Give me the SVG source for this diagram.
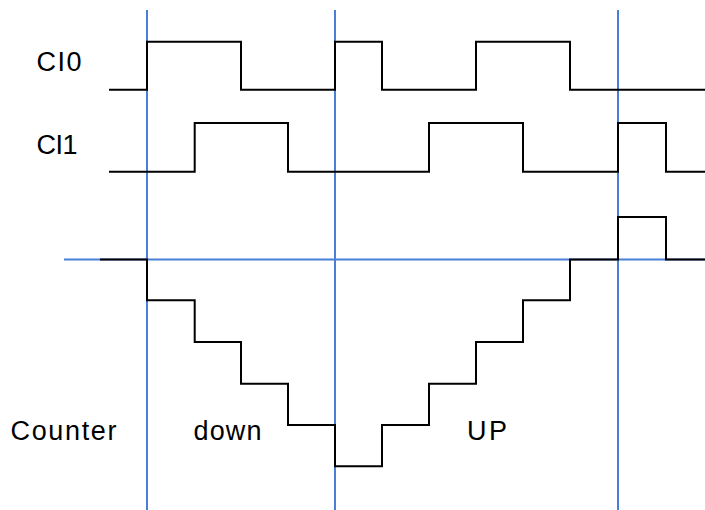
<svg xmlns="http://www.w3.org/2000/svg" width="705" height="510" viewBox="0 0 705 510">
<style>
.grid{stroke:#4a7fd8;stroke-width:2;fill:none}
.sig{stroke:#000;stroke-width:2;fill:none;stroke-linejoin:miter}
.lbl{font-family:"Liberation Sans",Arial,sans-serif;font-size:27px;fill:#000}
</style>
<rect width="705" height="510" fill="#fff"/>
<g id="connectors">
<g id="grid">
<line class="grid" x1="147" y1="10" x2="147" y2="510"/>
<line class="grid" x1="335" y1="10" x2="335" y2="510"/>
<line class="grid" x1="618" y1="10" x2="618" y2="510"/>
<line class="grid" x1="64" y1="259.5" x2="705" y2="259.5"/>
</g>
<path id="ci0" class="sig" d="M109 89.7H147V41.7H241V89.7H335V41.7H382V89.7H476V41.7H570V89.7H705"/>
<path id="ci1" class="sig" d="M109 171.7H194.7V123H288V171.7H429V123H523V171.7H618V123H666V171.7H705"/>
<path id="counter" class="sig" d="M100 259.5H147V300.3H194.7V342H241V383.7H288V425H335V466.3H382V425H429V383.7H476V342H523V300.3H570V259.5H618V217H666V259.5H705"/>
</g>
<g id="label-ci0"><text class="lbl" x="36.5" y="70.5" textLength="45" lengthAdjust="spacing">CI0</text></g>
<g id="label-ci1"><text class="lbl" x="36.5" y="153.5" textLength="41" lengthAdjust="spacing">CI1</text></g>
<g id="label-counter"><text class="lbl" x="10.5" y="440" textLength="106" lengthAdjust="spacing">Counter</text></g>
<g id="label-down"><text class="lbl" x="193.5" y="440" textLength="68" lengthAdjust="spacing">down</text></g>
<g id="label-up"><text class="lbl" x="467" y="440" textLength="40" lengthAdjust="spacing">UP</text></g>
</svg>
